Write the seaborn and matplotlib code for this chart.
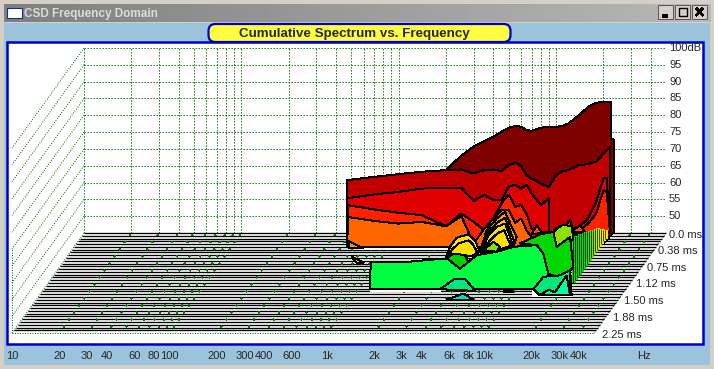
"""Cumulative spectrum vs. frequency (CSD waterfall) in a small app window."""
import matplotlib
matplotlib.use("Agg")
import numpy as np
import matplotlib.pyplot as plt
from matplotlib.patches import FancyBboxPatch, Rectangle
import seaborn as sns

# ---- axes values ----
grid_hz = [10, 20, 30, 40, 50, 60, 70, 80, 90, 100, 200, 300, 400, 500, 600, 700, 800, 900,
           1000, 2000, 3000, 4000, 5000, 6000, 7000, 8000, 9000, 10000, 20000, 30000, 40000, 50000]
freq_labels = ["10", "20", "30", "40", "60", "80", "100", "200", "300", "400", "600", "1k",
               "2k", "3k", "4k", "6k", "8k", "10k", "20k", "30k", "40k"]
freq_label_hz = [10, 20, 30, 40, 60, 80, 100, 200, 300, 400, 600, 1000,
                 2000, 3000, 4000, 6000, 8000, 10000, 20000, 30000, 40000]
db_ticks = [100, 95, 90, 85, 80, 75, 70, 65, 60, 55, 50]
time_ticks = [0.0, 0.38, 0.75, 1.12, 1.50, 1.88, 2.25]

# ---- contour bands seen on the rear plane (level in dB) ----
band_hz = [470, 700, 1000, 1400, 2000, 2500, 3000, 3500, 4000, 4500, 5000, 5500, 6000, 6500,
           7000, 8000, 9000, 10000, 11000, 12000, 14000, 16000, 18000, 20000, 22000]
dark_red_db = [60.7, 61.7, 62.5, 63.2, 63.7, 68, 70.7, 72.3, 73.6, 75.1, 76.3, 76.8, 76.6, 75.6,
               75.4, 76.3, 76.6, 76.6, 76.8, 77.6, 80, 82.5, 83.7, 84, 84]
mid_red_db = [60.7, 61.7, 62.5, 63.2, 63.7, 63.9, 62.7, 63.7, 63.9, 63.4, 65.2, 65.9, 64.9, 62.2,
              61.2, 59.7, 58.7, 62.2, 63.4, 63.7, 65.2, 65.5, 66.2, 68.6, 70.6]
bright_red_db = [55.3, 56.5, 57.2, 58.2, 58.5, 58.4, 54.6, 56.3, 54.8, 54.8, 58.7, 59.4, 58.2,
                 59.4, 56.7, 53.3, 55.3]
red_orange_db = [53.3, 52, 51, 50.3, 47, 50.8, 48.3, 45.8, 49.3, 53.8, 56.5, 52.8, 53.3,
                 50.6, 46.3, 44.8, 44.8]
orange_db = [49.8, 48.6, 47.8, 48.3, 47, 50, 41.9, 46.3, 49.3, 51.8, 51.8, 48, 49.3, 45.8, 43.8]

right_hz = [12000, 14000, 16000, 18000, 20000, 21000, 22000]
right_red_db = [46.3, 46.8, 49.3, 54.3, 61.2, 61.5, 45.8]
right_orange_db = [45, 45.8, 47.8, 50.8, 57.7, 57.2, 45.3]

# ---- front patches: log10(Hz) and level on the rear plane ----
bits_lf = [3.845, 3.877, 3.909, 3.983, 4.004, 4.036, 4.089, 4.110, 4.153, 4.184]
bits_db = [44.8, 47.3, 45.3, 45.3, 46.8, 45.8, 48.8, 45.8, 47.3, 45.3]
gold_lf = [3.517, 3.559, 3.623, 3.676, 3.718, 3.75, 3.729, 3.623]
gold_db = [39.4, 45.8, 49.3, 51.3, 46.8, 43.8, 40.9, 39.4]
amber_lf = [3.522, 3.565, 3.623, 3.676, 3.712, 3.735, 3.623]
amber_db = [39.5, 45, 48, 49.5, 45.3, 42.4, 39.5]
yellow2_lf = [3.527, 3.570, 3.623, 3.676, 3.708, 3.725, 3.623]
yellow2_db = [39.7, 44.3, 46.8, 47.8, 43.8, 41.1, 39.6]
yellow2b_lf = [3.533, 3.580, 3.630, 3.672, 3.695, 3.715, 3.623]
yellow2b_db = [39.8, 42.8, 45, 45.8, 43, 41.2, 39.8]
lime_lf = [3.538, 3.602, 3.644, 3.623]
lime_db = [39.9, 42.4, 40.9, 39.4]
yellow1_lf = [3.294, 3.326, 3.369, 3.443, 3.485, 3.517, 3.464, 3.347]
yellow1_db = [37.1, 40.9, 43.6, 44.6, 42.8, 39.4, 38.1, 38.9]
yellow1b_lf = [3.305, 3.340, 3.385, 3.445, 3.475, 3.500, 3.464, 3.347]
yellow1b_db = [37.4, 40.2, 42, 42.8, 41.4, 39.2, 38.1, 38.9]
green_small_lf = [3.294, 3.347, 3.422, 3.443, 3.390]
green_small_db = [36.9, 38.9, 38.4, 36.4, 34.1]
lime_back_lf = [3.983, 4.04, 4.10, 4.11, 4.004]
lime_back_db = [45.3, 47.5, 47, 43, 40.9]
green_back_lf = [3.771, 3.898, 3.983, 4.004, 4.089, 4.11, 4.089, 4.015, 3.951, 3.919, 3.877]
green_back_db = [41.9, 44.6, 45.3, 40.9, 43.8, 34.9, 33.9, 31.9, 32.9, 38.9, 41.4]
green_main_lf = [2.818, 2.822, 3.051, 3.284, 3.316, 3.390, 3.443, 3.496, 3.623, 3.729, 3.877,
                 3.919, 3.951, 4.015, 4.089, 4.099, 3.898, 3.856, 3.263]
green_main_db = [28.5, 36.4, 36.4, 37.4, 37.1, 34.4, 36.4, 38.4, 39.4, 40.9, 41.4,
                 38.9, 32.9, 31.9, 33.9, 26.5, 26.5, 28.3, 28.3]
sea_lf = [3.263, 3.356, 3.422, 3.485]
sea_db = [28.3, 31.4, 31.4, 27.8]
sea_right_lf = [3.856, 3.919, 4.025, 4.089, 4.089, 3.898]
sea_right_db = [28.3, 32, 32.4, 33.9, 26.5, 26.5]
mint_lf = [3.898, 3.951, 3.993, 4.067, 4.089]
mint_db = [26.6, 28.1, 27.4, 32.4, 26.5]
dot_lf = [3.665, 3.697, 3.729]
dot_db = [27.5, 28.2, 27.5]
cyan_lf = [3.305, 3.411, 3.474]
cyan_db = [25.2, 27, 25.2]
orange_bit_lf = [2.684, 2.775, 2.684]
orange_bit_db = [42.6, 40.4, 40.4]
yellow_bit_lf = [2.701, 2.779, 2.739]
yellow_bit_db = [37.9, 36.2, 35.9]

# ---- slice ends on the right (time, level) ----
end_t = [0.125, 0.1875, 0.25, 0.3125, 0.375, 0.4375, 0.5, 0.5625, 0.625, 0.6875, 0.75, 0.8125,
         0.875, 0.9375, 1.0, 1.0625, 1.125]
end_db = [47.5, 48.5, 49.5, 50.4, 51.3, 51.9, 52.6, 53.2, 53.9, 54.5, 55.1, 55.7, 56.4, 57, 57.4,
          58.3, 59.1]
end_colors = ["#ffe000", "#ffe000", "#f0f000", "#e0f000", "#d0f000", "#c0f000", "#a0e800", "#80e000",
              "#60e000", "#40e000", "#20e000", "#00e000", "#00e000", "#00e000", "#00e000", "#00e000",
              "#00e000"]

T_MAX = 2.25
FLOOR_DB = 45
SHIFT_LF = 72 / 157.3 / T_MAX   # log10(Hz) per ms on screen
SHIFT_DB = 100 / 3.36 / T_MAX   # dB per ms on screen
PX = 0.72
GREEN = "#008000"
DOTS = (0, (1.3, 1.7))


def to_plane(hz, db, t):
    """Rear-plane position of a point at time t."""
    return np.asarray(hz, float) * 10 ** (-SHIFT_LF * np.asarray(t, float)), np.asarray(db, float) - SHIFT_DB * np.asarray(t, float)


def band(ax, hz, db, color, z):
    ax.fill(hz, db, fc=color, ec="black", lw=PX, clip_on=False, zorder=z, antialiased=False)


def patch(ax, lf, db, color, z):
    band(ax, 10 ** np.asarray(lf), db, color, z)


def chrome(fig):
    bg = fig.add_axes([0, 0, 1, 1], zorder=-1)
    bg.imshow(np.linspace(0.5, 0.72, 256)[None, :], cmap="gray", vmin=0, vmax=1, aspect="auto",
              extent=(4, 711, 22, 4))
    bg.set_xlim(0, 714); bg.set_ylim(369, 0); bg.axis("off")
    fig.patch.set_facecolor("#d4d0c8")
    bg.add_patch(Rectangle((4, 23), 706, 342, fc="#9cc3dc", ec="none"))
    bg.add_patch(Rectangle((6.5, 41.5), 696.5, 302, fc="white", ec="#0000c8", lw=1.8))
    bg.add_patch(Rectangle((7, 8), 15, 10, fc="white", ec="#1030a0", lw=0.8))
    bg.text(24, 13.5, "CSD Frequency Domain", color="#dcdcdc", fontsize=8.5, fontweight="bold",
            va="center", ha="left")
    for x in (658, 675, 692):
        bg.add_patch(Rectangle((x, 5), 15, 14, fc="#d4d0c8", ec="#555555", lw=0.7))
    bg.plot([662, 668], [16, 16], color="black", lw=1.5)
    bg.add_patch(Rectangle((678.5, 8), 8, 8, fc="none", ec="black", lw=1))
    bg.plot([696, 703], [8, 15.5], color="black", lw=1.2)
    bg.plot([696, 703], [15.5, 8], color="black", lw=1.2)
    bg.add_patch(FancyBboxPatch((208.5, 24), 302, 18, boxstyle="round,pad=0,rounding_size=7",
                                fc="#ffff40", ec="#0000c8", lw=1.6, mutation_aspect=1, zorder=5))
    bg.text(354, 33.5, "Cumulative Spectrum vs. Frequency", fontsize=9.6, fontweight="bold",
            ha="center", va="center", zorder=6)


def walls(ax):
    ax.set_xscale("log")
    ax.set_xlim(10, 50000); ax.set_ylim(FLOOR_DB, 100)
    ax.set_xticks(grid_hz); ax.minorticks_off(); ax.set_yticks(db_ticks)
    ax.tick_params(length=0, labelbottom=False, labelleft=False)
    ax.grid(True, color="#006800", lw=PX, ls=DOTS, antialiased=True)
    ax.set_axisbelow(True)
    ax.patch.set_visible(False)
    sns.despine(ax=ax, left=True, bottom=True)
    style = dict(color="#007000", lw=PX, ls=(0, (1, 1.5)), clip_on=False, zorder=1, antialiased=True)
    for db in db_ticks + [FLOOR_DB]:
        x, y = to_plane([10, 10], [db, db], [0, T_MAX])
        ax.plot(x, y, **style)
    x, y = to_plane([10, 10], [FLOOR_DB, 70], [T_MAX, T_MAX])
    ax.plot(x, y, **style)
    x, y = to_plane([10, 50000], [FLOOR_DB, FLOOR_DB], [T_MAX, T_MAX])
    ax.plot(x, y, **style)
    x, y = to_plane([50000, 50000], [FLOOR_DB, FLOOR_DB], [0, T_MAX])
    ax.plot(x, y, **style)


def floor(ax):
    for t in np.arange(0, 2.2, 0.0625):
        x, y = to_plane([10, 50000], [FLOOR_DB, FLOOR_DB], t)
        sns.lineplot(x=x, y=y, estimator=None, sort=False, color="black", linewidth=0.95,
                     antialiased=True, clip_on=False, zorder=2, ax=ax)
    ax.set_xlabel(""); ax.set_ylabel("")
    for t in np.arange(0.05, 2.2, 0.158):
        for hz in grid_hz[1:-1]:
            x, y = to_plane([hz, hz], [FLOOR_DB, FLOOR_DB], [t - 0.01, t + 0.01])
            ax.plot(x, y, color=GREEN, lw=PX, clip_on=False, zorder=3)


def surface(ax):
    # white gaps left under the front edges
    ax.fill(10 ** np.array([2.75, 3.40, 3.40, 2.75]), [41.6, 41.6, 39.9, 39.9], fc="white", ec="none",
            clip_on=False, zorder=4)
    ax.fill(10 ** np.array([2.82, 3.27, 3.27, 2.82]), [29, 29, 27.5, 27.5], fc="white", ec="none",
            clip_on=False, zorder=4)
    ax.fill(10 ** np.array([3.85, 4.10, 4.10, 3.85]), [28, 28, 26, 26], fc="white", ec="none",
            clip_on=False, zorder=4)

    hz = band_hz + [22500, 22500, 23300, 23300, 20000, 470]
    band(ax, hz, dark_red_db + [84, 72.8, 72.8, 45.3, 41.9, 40.9], "#800000", 5)
    band(ax, band_hz + [22000, 470], mid_red_db + [45, 40.9], "#c00000", 6)
    band(ax, right_hz, right_red_db, "#e00000", 7)
    band(ax, right_hz, right_orange_db, "#ff2000", 8)
    band(ax, band_hz[:17] + [9000, 470], bright_red_db + [41, 41], "#e00000", 7)
    band(ax, band_hz[:17] + [9000, 470], red_orange_db + [41, 41], "#ff2000", 8)
    band(ax, band_hz[:15] + [7000, 470], orange_db + [40.9, 40.9], "#ff6600", 9)
    patch(ax, bits_lf, bits_db, "#ff5000", 9)

    # slice ends down the right side
    for t, db, c in zip(end_t, end_db, end_colors):
        x, y = to_plane([22100, 22100], [FLOOR_DB, db], t)
        ax.plot(x, y, color=c, lw=1.6, clip_on=False, zorder=10)
    for t, db in zip(end_t, end_db):
        x, y = to_plane([21800, 21800], [FLOOR_DB, db], t)
        ax.plot(x, y, color="black", lw=0.5, clip_on=False, zorder=10, antialiased=True)

    patch(ax, gold_lf, gold_db, "#ffa000", 11)
    patch(ax, amber_lf, amber_db, "#ffc000", 12)
    patch(ax, yellow2_lf, yellow2_db, "#ffe000", 12)
    patch(ax, yellow2b_lf, yellow2b_db, "#ffe000", 12)
    patch(ax, lime_lf, lime_db, "#80e000", 13)
    patch(ax, yellow1_lf, yellow1_db, "#ffe000", 11)
    patch(ax, yellow1b_lf, yellow1b_db, "#ffe000", 11)
    patch(ax, green_small_lf, green_small_db, "#00d000", 12)
    patch(ax, lime_back_lf, lime_back_db, "#90e000", 12)
    patch(ax, green_back_lf, green_back_db, "#00d800", 13)
    patch(ax, green_main_lf, green_main_db, "#00ff40", 14)
    patch(ax, sea_lf, sea_db, "#00e878", 15)
    patch(ax, sea_right_lf, sea_right_db, "#00e878", 15)
    patch(ax, mint_lf, mint_db, "#00ffa0", 16)
    patch(ax, dot_lf, dot_db, "#00e878", 15)
    patch(ax, cyan_lf, cyan_db, "#00e0c0", 15)
    patch(ax, orange_bit_lf, orange_bit_db, "#ff9000", 11)
    patch(ax, yellow_bit_lf, yellow_bit_db, "#ffe000", 11)
    ax.plot([470, 470], [44.8, 52.8], color="black", lw=2, clip_on=False, zorder=10)


def labels(ax):
    for db in db_ticks:
        txt = "100dB" if db == 100 else str(db)
        ax.annotate(txt, (50000, db), xytext=(3, 0), textcoords="offset pixels", va="center",
                    ha="left", fontsize=8, annotation_clip=False)
    for t in time_ticks:
        txt = "0.0 ms" if t == 0 else f"{t:.2f} ms"
        x, y = to_plane(50000, FLOOR_DB, t)
        ax.annotate(txt, (x, y), xytext=(3 + 2.2 * t, -1.5), textcoords="offset pixels", va="center",
                    ha="left", fontsize=8, annotation_clip=False)
    for hz, txt in zip(freq_label_hz + [104000], freq_labels + ["Hz"]):
        x, y = to_plane(hz, FLOOR_DB, T_MAX)
        ax.annotate(txt, (x, y), xytext=(0, -23), textcoords="offset pixels", va="center",
                    ha="center", fontsize=8, annotation_clip=False)


def main():
    sns.set_theme(style="white")
    plt.rcParams["font.family"] = ["Liberation Sans", "DejaVu Sans"]
    plt.rcParams["lines.solid_capstyle"] = "butt"
    plt.rcParams["lines.dash_capstyle"] = "butt"
    plt.rcParams["lines.antialiased"] = False
    fig = plt.figure(figsize=(7.14, 3.69), dpi=100)
    chrome(fig)
    ax = fig.add_axes([84 / 714, 1 - 233 / 369, 582 / 714, 185 / 369])
    walls(ax)
    floor(ax)
    surface(ax)
    labels(ax)
    fig.savefig("out.png", dpi=100, facecolor=fig.get_facecolor())
    plt.close(fig)


if __name__ == "__main__":
    main()
